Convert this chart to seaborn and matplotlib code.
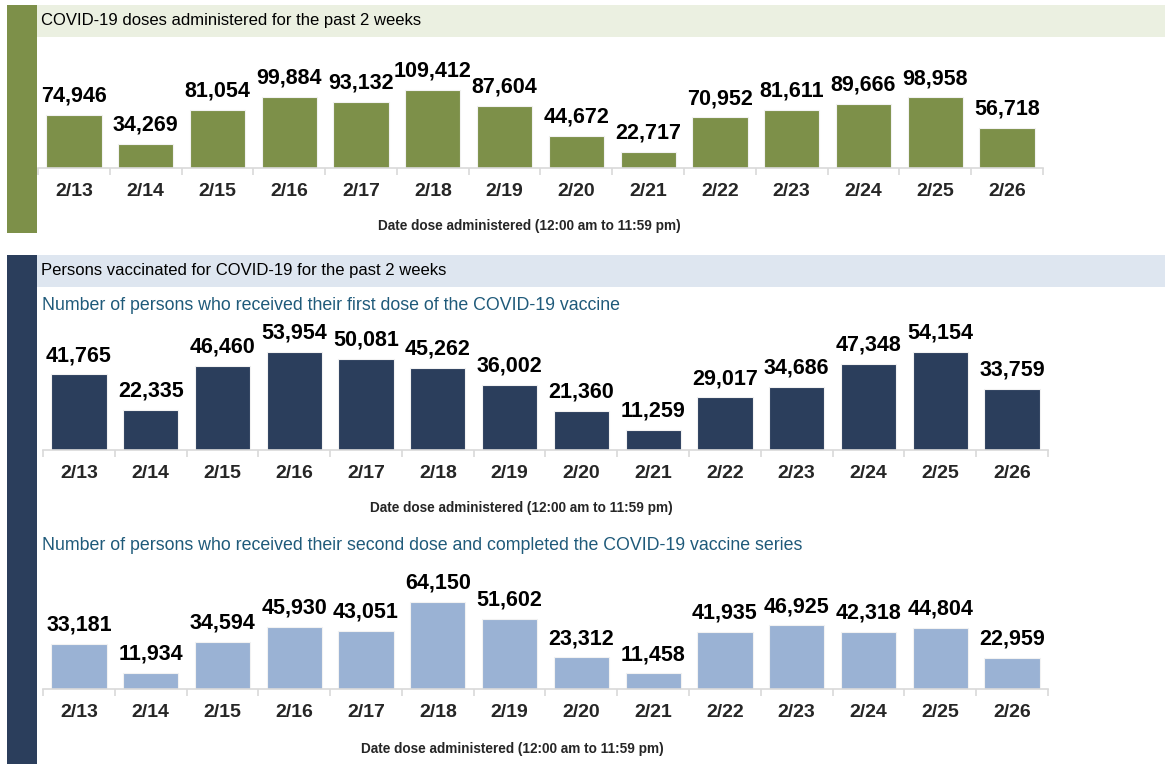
import matplotlib
matplotlib.use('Agg')
import matplotlib.pyplot as plt
import seaborn as sns
import pandas as pd
from matplotlib.patches import Rectangle
from matplotlib.ticker import FixedLocator

# data
dates = ['2/13', '2/14', '2/15', '2/16', '2/17', '2/18', '2/19',
         '2/20', '2/21', '2/22', '2/23', '2/24', '2/25', '2/26']
doses_total = [74946, 34269, 81054, 99884, 93132, 109412, 87604,
               44672, 22717, 70952, 81611, 89666, 98958, 56718]
first_dose = [41765, 22335, 46460, 53954, 50081, 45262, 36002,
              21360, 11259, 29017, 34686, 47348, 54154, 33759]
second_dose = [33181, 11934, 34594, 45930, 43051, 64150, 51602,
               23312, 11458, 41935, 46925, 42318, 44804, 22959]

GREEN = '#7D9049'
NAVY = '#2B3E5C'
LIGHTBLUE = '#9AB2D4'
GREEN_BAND = '#EBF0E1'
BLUE_BAND = '#DEE6F0'
SUB_COLOR = '#1F5A7A'
XLABEL = 'Date dose administered (12:00 am to 11:59 pm)'

W, H = 1173, 768

sns.set_theme(style='white')
plt.rcParams['font.family'] = ['Liberation Sans', 'DejaVu Sans']

fig = plt.figure(figsize=(W / 100, H / 100), dpi=100)
fig.patch.set_facecolor('white')


def rect_px(x0, y0, x1, y1, color):
    fig.patches.append(Rectangle((x0 / W, 1 - y1 / H), (x1 - x0) / W, (y1 - y0) / H,
                                 transform=fig.transFigure, facecolor=color,
                                 edgecolor='none', zorder=0))


def text_px(x, y, s, **kw):
    fig.text(x / W, 1 - y / H, s, va='center', **kw)


def bar_panel(values, color, left, right, top, bottom, ymax):
    ax = fig.add_axes([left / W, 1 - bottom / H, (right - left) / W, (bottom - top) / H])
    df = pd.DataFrame({'date': dates, 'value': values})
    sns.barplot(data=df, x='date', y='value', color=color, width=0.77,
                edgecolor='#F2F2F2', linewidth=0.8, saturation=1, ax=ax)
    ax.bar_label(ax.containers[0], labels=[f'{v:,}' for v in values],
                 padding=6, fontsize=15.5, fontweight='bold', color='black')
    ax.set_xlim(-0.5, len(dates) - 0.5)
    ax.set_ylim(0, ymax)
    ax.set_facecolor('none')
    for side in ['top', 'right', 'left']:
        ax.spines[side].set_visible(False)
    ax.spines['bottom'].set_color('#D9D9D9')
    ax.spines['bottom'].set_linewidth(1.2)
    ax.set_yticks([])
    ax.set_xlabel('')
    ax.set_ylabel('')
    ax.tick_params(axis='x', which='major', length=0, pad=11, labelsize=14)
    for lab in ax.get_xticklabels():
        lab.set_fontweight('bold')
    ax.xaxis.set_minor_locator(FixedLocator([i - 0.5 for i in range(len(dates) + 1)]))
    ax.tick_params(axis='x', which='minor', length=5, width=1.2, color='#D9D9D9',
                   bottom=True)
    return ax


# panel 1: doses administered
rect_px(7, 5, 37, 233, GREEN)
rect_px(37, 5, 1165, 37, GREEN_BAND)
text_px(41, 20, 'COVID-19 doses administered for the past 2 weeks', fontsize=12, color='black')
bar_panel(doses_total, GREEN, 38, 1043, 40, 168, 179500)
text_px(529, 226, XLABEL, fontsize=9.8, fontweight='bold', ha='center')

# panel 2: persons vaccinated
rect_px(7, 255, 37, 764, NAVY)
rect_px(37, 255, 1165, 287, BLUE_BAND)
text_px(41, 271, 'Persons vaccinated for COVID-19 for the past 2 weeks', fontsize=12, color='black')

text_px(42, 305, 'Number of persons who received their first dose of the COVID-19 vaccine',
        fontsize=12.8, color=SUB_COLOR)
bar_panel(first_dose, NAVY, 43, 1048, 320, 450, 71800)
text_px(521, 508, XLABEL, fontsize=9.8, fontweight='bold', ha='center')

text_px(42, 545, 'Number of persons who received their second dose and completed the COVID-19 vaccine series',
        fontsize=12.8, color=SUB_COLOR)
bar_panel(second_dose, LIGHTBLUE, 43, 1048, 560, 689, 95100)
text_px(512, 749, XLABEL, fontsize=9.8, fontweight='bold', ha='center')

plt.savefig('out.png', dpi=100, facecolor=fig.get_facecolor())
plt.close()
